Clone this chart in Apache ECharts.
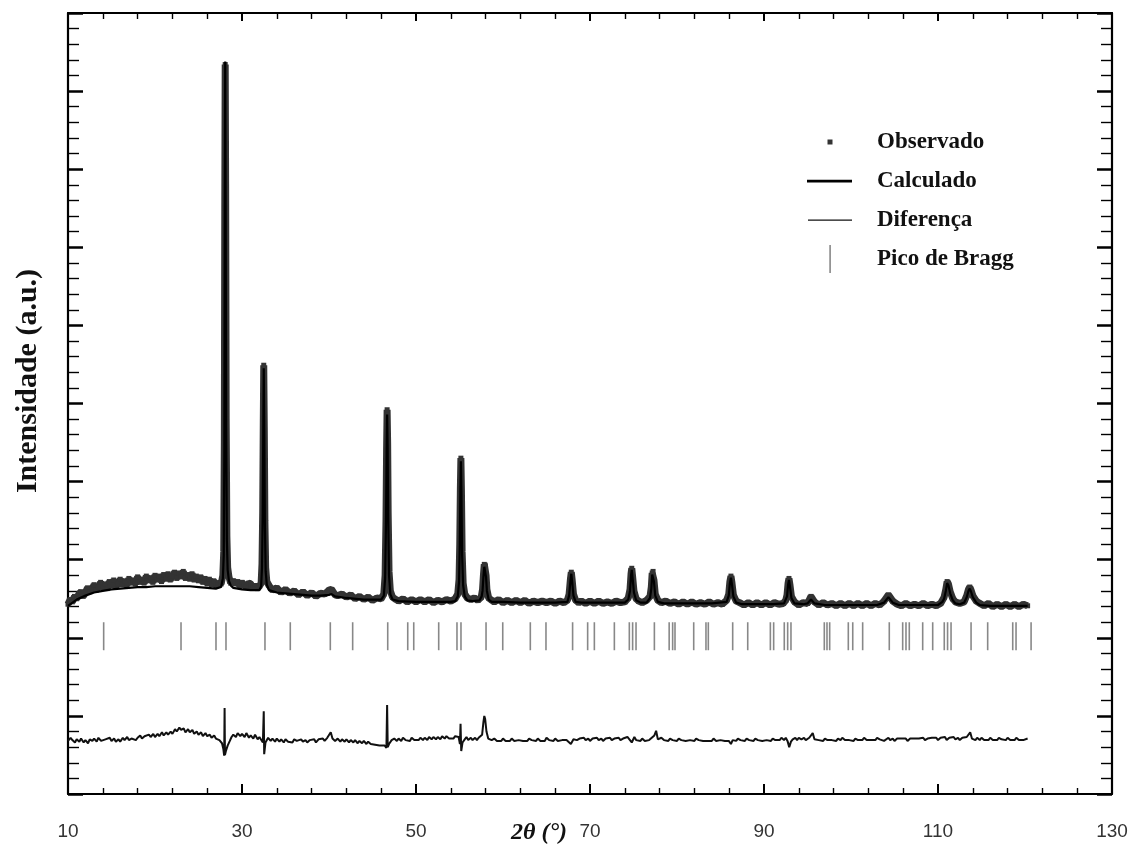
<!DOCTYPE html>
<html>
<head>
<meta charset="utf-8">
<script src="https://cdn.jsdelivr.net/npm/echarts@6/dist/echarts.min.js"></script>
<style>
html,body{margin:0;padding:0;background:#fff;}
#chart{width:1131px;height:859px;}
</style>
</head>
<body>
<div id="chart"></div>
<script>
// ---- data (2θ in degrees, intensity in arbitrary units) ----
const xTickLabels = [10, 30, 50, 70, 90, 110, 130];

const observed = [
[10.0,24.3],[10.25,24.9],[10.5,24.6],[10.75,25.3],[11.0,25.0],[11.25,25.6],[11.5,25.9],[11.75,25.3],[12.0,25.8],[12.25,26.4],
[12.5,25.9],[12.75,26.2],[13.0,26.8],[13.25,26.1],[13.5,26.5],[13.75,27.1],[14.0,26.4],[14.25,26.9],[14.5,26.3],[14.75,27.2],
[15.0,26.7],[15.25,27.4],[15.5,26.6],[15.75,26.9],[16.0,27.5],[16.25,26.8],[16.5,27.3],[16.75,26.7],[17.0,27.6],[17.25,27.0],
[17.5,27.4],[17.75,26.9],[18.0,27.8],[18.25,27.1],[18.5,27.5],[18.75,27.0],[19.0,27.9],[19.25,27.3],[19.5,27.7],[19.75,27.1],
[20.0,28.0],[20.25,27.4],[20.5,27.9],[20.75,27.2],[21.0,28.1],[21.25,27.5],[21.5,28.2],[21.75,27.4],[22.0,27.9],[22.25,28.4],
[22.5,27.6],[22.75,28.3],[23.0,27.8],[23.25,28.5],[23.5,27.6],[23.75,28.1],[24.0,27.5],[24.25,28.2],[24.5,27.4],[24.75,27.9],
[25.0,27.3],[25.25,27.8],[25.5,27.1],[25.75,27.6],[26.0,26.9],[26.25,27.5],[26.5,26.8],[26.75,27.3],[27.0,26.7],[27.25,27.0],[27.4,26.8],
[27.6,26.9],[27.8,28.0],[27.9,31.0],[27.97,45.0],[28.02,75.0],[28.07,93.4],[28.12,78.0],[28.18,48.0],[28.26,33.0],[28.35,29.0],
[28.5,27.8],[28.7,27.0],[29.0,27.3],[29.25,26.9],[29.5,27.2],[29.75,26.6],[30.0,27.1],[30.25,26.7],[30.5,26.5],[30.75,27.0],
[31.0,26.9],[31.25,26.4],[31.5,26.7],[31.75,26.3],[32.0,26.6],
[32.2,27.0],[32.3,29.5],[32.38,36.0],[32.45,48.0],[32.5,54.9],[32.56,47.0],[32.63,35.0],[32.72,29.0],[32.85,27.2],[33.1,26.7],
[33.5,26.1],[34.0,26.4],[34.5,25.8],[35.0,26.2],[35.5,25.7],[36.0,26.0],[36.5,25.5],[37.0,25.9],[37.5,25.4],[38.0,25.8],
[38.5,25.3],[39.0,25.7],[39.5,25.6],[40.0,26.1],[40.3,26.2],[40.7,25.5],[41.0,25.4],[41.5,25.6],[42.0,25.2],[42.5,25.5],
[43.0,25.0],[43.5,25.3],[44.0,24.9],[44.5,25.2],[45.0,24.8],[45.5,25.1],[46.0,25.0],
[46.3,25.6],[46.45,28.0],[46.55,35.0],[46.62,44.0],[46.68,49.2],[46.74,45.0],[46.8,36.0],[46.9,28.5],[47.05,26.0],[47.3,25.2],
[47.7,24.9],[48.0,24.7],[48.5,25.0],[49.0,24.6],[49.5,24.9],[50.0,24.6],[50.5,24.9],[51.0,24.6],[51.5,24.9],[52.0,24.5],
[52.5,24.8],[53.0,24.6],[53.5,24.9],[54.0,24.7],[54.5,25.0],
[54.8,25.6],[54.95,27.5],[55.03,32.0],[55.1,39.0],[55.16,43.0],[55.22,39.0],[55.3,31.0],[55.42,27.0],[55.6,25.6],[55.9,25.1],
[56.3,24.9],[56.7,25.1],[57.1,24.8],[57.5,25.2],
[57.65,26.2],[57.75,28.0],[57.85,29.4],[57.95,29.3],[58.05,28.0],[58.15,26.2],[58.35,25.1],[58.7,24.8],
[59.0,24.6],[59.5,24.9],[60.0,24.5],[60.5,24.8],[61.0,24.5],[61.5,24.8],[62.0,24.5],[62.5,24.8],[63.0,24.4],[63.5,24.7],
[64.0,24.5],[64.5,24.7],[65.0,24.5],[65.5,24.7],[66.0,24.4],[66.5,24.7],[67.0,24.5],[67.4,24.8],
[67.6,25.6],[67.75,27.5],[67.85,28.4],[67.95,27.4],[68.1,25.6],[68.35,24.8],[68.7,24.5],
[69.0,24.7],[69.5,24.4],[70.0,24.7],[70.5,24.4],[71.0,24.7],[71.5,24.4],[72.0,24.6],[72.5,24.4],[73.0,24.7],[73.5,24.5],
[74.0,24.6],[74.4,25.1],[74.6,26.2],[74.72,28.2],[74.8,28.9],[74.9,27.8],[75.05,26.0],[75.3,25.0],[75.6,24.7],
[76.0,24.5],[76.5,24.8],[76.9,25.3],[77.05,26.5],[77.15,28.3],[77.25,28.5],[77.35,27.4],[77.5,25.6],[77.8,24.8],
[78.2,24.5],[78.7,24.7],[79.2,24.4],[79.7,24.6],[80.2,24.3],[80.7,24.6],[81.2,24.3],[81.7,24.6],[82.2,24.3],[82.7,24.5],
[83.2,24.3],[83.7,24.6],[84.2,24.3],[84.7,24.5],[85.2,24.3],[85.7,24.8],
[85.95,25.6],[86.08,27.2],[86.2,27.9],[86.32,27.0],[86.48,25.5],[86.8,24.7],
[87.2,24.5],[87.7,24.2],[88.2,24.5],[88.7,24.2],[89.2,24.5],[89.7,24.2],[90.2,24.5],[90.7,24.2],[91.2,24.5],[91.7,24.3],
[92.2,24.4],[92.5,24.8],[92.65,25.5],[92.77,27.0],[92.87,27.6],[92.98,26.8],[93.15,25.3],[93.5,24.6],
[94.0,24.2],[94.5,24.5],[95.0,24.4],[95.4,25.3],[95.8,24.6],[96.3,24.2],[96.8,24.5],[97.3,24.2],[97.8,24.4],[98.3,24.1],
[98.8,24.4],[99.3,24.1],[99.8,24.4],[100.3,24.1],[100.8,24.4],[101.3,24.1],[101.8,24.4],[102.3,24.1],[102.8,24.4],[103.3,24.2],
[103.8,24.7],[104.3,25.5],[104.8,24.7],[105.3,24.3],[105.8,24.1],[106.3,24.4],[106.8,24.1],[107.3,24.3],[107.8,24.1],[108.3,24.4],
[108.8,24.1],[109.3,24.3],[109.8,24.1],[110.3,24.4],[110.7,25.2],
[110.9,26.2],[111.05,27.2],[111.2,26.9],[111.4,25.9],[111.7,25.0],[112.0,24.6],[112.5,24.4],[113.0,24.6],[113.3,25.4],
[113.5,26.2],[113.65,26.5],[113.8,26.1],[114.0,25.4],[114.4,24.7],[114.8,24.4],
[115.3,24.1],[115.8,24.4],[116.3,24.0],[116.8,24.3],[117.3,24.0],[117.8,24.3],[118.3,24.0],[118.8,24.3],[119.3,24.0],[119.8,24.3],[120.3,24.1]
];

const calculated = [
[10,24.1],[11,24.9],[12,25.4],[13,25.8],[14,26.0],[15,26.2],[16,26.3],[17,26.4],[18,26.5],[19,26.5],[20,26.6],[21,26.6],
[22,26.6],[23,26.6],[24,26.6],[25,26.5],[26,26.4],[27,26.3],[27.6,26.5],[27.8,27.6],[27.9,30.5],[27.97,44],[28.02,76],
[28.07,93.8],[28.12,77],[28.18,47],[28.26,32.5],[28.35,28.7],[28.5,27.3],[28.7,26.7],[29,26.4],[30,26.2],[31,26.1],[32,26.1],
[32.2,26.6],[32.3,29],[32.38,35.5],[32.45,47.5],[32.5,54.5],[32.56,46.5],[32.63,34.5],[32.72,28.5],[32.85,26.8],[33.1,26.1],
[34,25.8],[35,25.7],[36,25.6],[37,25.5],[38,25.4],[39,25.4],[40,25.5],[40.3,25.6],[40.7,25.3],[42,25.1],[44,24.9],[46,24.9],
[46.3,25.4],[46.45,27.6],[46.55,34.5],[46.62,43.5],[46.68,48.6],[46.74,44.5],[46.8,35.5],[46.9,28.0],[47.05,25.6],[47.3,24.9],
[48,24.7],[50,24.6],[52,24.6],[54,24.6],[54.5,24.7],[54.8,25.3],[54.95,27.2],[55.03,31.6],[55.1,38.6],[55.16,42.6],[55.22,38.6],
[55.3,30.6],[55.42,26.7],[55.6,25.3],[55.9,24.8],[56.5,24.7],[57.3,24.8],[57.55,25.3],[57.65,26.0],[57.75,27.8],[57.85,29.1],
[57.95,29.0],[58.05,27.8],[58.15,26.0],[58.35,24.9],[58.7,24.6],[60,24.6],[62,24.5],[64,24.5],[66,24.5],[67.4,24.6],[67.6,25.4],
[67.75,27.3],[67.85,28.2],[67.95,27.2],[68.1,25.4],[68.35,24.6],[69,24.5],[71,24.5],[73,24.5],[74.0,24.5],[74.4,24.9],[74.6,26.0],
[74.72,28.0],[74.8,28.7],[74.9,27.6],[75.05,25.8],[75.3,24.8],[75.8,24.5],[76.5,24.5],[76.9,25.1],[77.05,26.3],[77.15,28.1],
[77.25,28.3],[77.35,27.2],[77.5,25.4],[77.8,24.6],[78.5,24.4],[80,24.4],[82,24.4],[84,24.4],[85.7,24.6],[85.95,25.4],[86.08,27.0],
[86.2,27.7],[86.32,26.8],[86.48,25.3],[86.8,24.5],[87.5,24.3],[89,24.3],[91,24.3],[92.3,24.4],[92.5,24.6],[92.65,25.3],[92.77,26.8],
[92.87,27.4],[92.98,26.6],[93.15,25.1],[93.5,24.4],[94.5,24.3],[95.0,24.4],[95.4,24.9],[95.8,24.4],[97,24.2],[100,24.2],[103,24.2],
[103.8,24.5],[104.3,25.2],[104.8,24.5],[105.5,24.2],[108,24.2],[110,24.2],[110.5,24.6],[110.7,25.0],[110.9,26.0],[111.05,27.0],
[111.2,26.7],[111.4,25.7],[111.7,24.8],[112.0,24.4],[112.5,24.3],[113.0,24.5],[113.3,25.2],[113.5,26.0],[113.65,26.3],[113.8,25.9],
[114.0,25.2],[114.4,24.5],[114.8,24.2],[116,24.1],[118,24.1],[120.3,24.1]
];

const difference = [
[10.0,6.8],[10.3,7.2],[10.5,6.9],[10.8,6.6],[11.0,7.0],[11.3,6.7],[11.5,7.1],[11.8,6.6],[12.0,6.9],[12.3,6.5],[12.5,7.0],[12.8,6.8],
[13.0,7.1],[13.3,6.7],[13.5,7.2],[13.8,6.8],[14.0,6.6],[14.3,7.0],[14.5,6.8],[14.8,7.2],[15.0,6.8],[15.3,7.1],[15.5,6.7],[15.8,7.0],
[16.0,6.7],[16.3,7.2],[16.5,6.9],[16.8,7.3],[17.0,6.9],[17.3,7.1],[17.5,7.3],[17.8,6.9],[18.0,7.2],[18.3,7.5],[18.5,7.1],[18.8,7.4],
[19.0,7.2],[19.3,7.6],[19.5,7.3],[19.8,7.7],[20.0,7.3],[20.3,7.7],[20.5,7.4],[20.8,7.9],[21.0,7.5],[21.3,7.9],[21.5,7.6],[21.8,8.0],
[22.0,7.7],[22.3,8.3],[22.5,8.0],[22.8,8.5],[23.0,8.2],[23.3,8.4],[23.5,7.9],[23.8,8.3],[24.0,7.9],[24.3,8.2],[24.5,7.7],[24.8,8.0],
[25.0,7.6],[25.3,7.9],[25.5,7.4],[25.8,7.8],[26.0,7.4],[26.3,7.6],[26.5,7.2],[26.8,7.5],[27.0,7.1],[27.2,7.3],[27.4,6.9],
[27.7,6.5],[27.85,5.8],[27.95,4.9],[28.0,11.0],[28.04,5.0],[28.15,5.5],[28.35,6.2],[28.6,6.8],[28.8,7.3],[29.0,7.6],[29.3,7.3],
[29.5,7.8],[29.8,7.4],[30.0,7.7],[30.3,7.3],[30.5,7.8],[30.8,7.2],[31.0,7.5],[31.3,7.1],[31.5,7.6],[31.8,7.0],[32.0,7.3],[32.4,6.6],
[32.5,10.6],[32.55,5.1],[32.7,6.6],[33.0,7.2],[33.3,6.8],[33.5,7.1],[33.8,6.7],[34.0,7.1],[34.3,6.7],[34.5,7.0],[34.8,6.6],
[35.0,7.0],[35.3,6.7],[35.5,6.9],[35.8,6.6],[36.0,7.0],[36.3,6.8],[36.5,6.6],[36.8,7.0],[37.0,6.7],[37.3,6.9],[37.5,6.6],[37.8,6.9],
[38.0,6.7],[38.3,7.0],[38.5,6.6],[38.8,7.0],[39.0,6.8],[39.3,7.1],[39.5,6.8],[39.8,7.2],[40.0,7.3],[40.2,7.9],[40.4,7.1],[40.7,6.8],
[41.0,7.1],[41.3,6.7],[41.5,7.0],[41.8,6.7],[42.0,7.0],[42.3,6.6],[42.5,6.9],[42.8,6.6],[43.0,6.9],[43.3,6.5],[43.5,6.8],[43.8,6.5],
[44.0,6.8],[44.3,6.4],[44.5,6.7],[44.8,6.4],[45.0,6.6],[45.3,6.3],[45.5,6.5],[45.8,6.2],[46.0,6.4],
[46.4,6.2],[46.6,5.9],[46.68,11.4],[46.75,6.0],[46.9,6.4],[47.2,6.9],[47.5,7.1],[47.8,6.8],[48.0,7.1],[48.3,6.8],[48.5,7.2],[48.8,6.9],
[49.0,7.1],[49.3,6.8],[49.5,7.2],[49.8,6.9],[50.0,7.1],[50.3,6.9],[50.5,7.2],[50.8,6.9],[51.0,7.2],[51.3,6.9],[51.5,7.3],[51.8,7.0],
[52.0,7.3],[52.3,7.0],[52.5,7.3],[52.8,7.0],[53.0,7.4],[53.3,7.1],[53.5,7.4],[53.8,7.1],[54.0,7.3],[54.3,7.1],[54.5,7.4],[54.9,7.3],
[55.05,6.4],[55.12,9.0],[55.2,5.5],[55.35,6.6],[55.6,7.0],[55.8,7.3],[56.0,6.9],[56.3,7.2],[56.5,6.9],[56.8,7.2],[57.0,6.9],[57.2,7.2],
[57.4,7.1],[57.6,7.6],[57.75,9.2],[57.85,10.0],[57.95,9.6],[58.1,8.0],[58.3,7.1],[58.5,7.2],[58.7,6.9],[59.0,7.1],[59.3,6.8],
[59.5,7.0],[59.8,6.8],[60.0,7.1],[60.3,6.8],[60.5,7.0],[60.8,6.8],[61.0,7.1],[61.3,6.8],[61.5,7.0],[61.8,6.9],[62.0,7.1],[62.3,6.8],
[62.5,7.0],[62.8,6.8],[63.0,7.1],[63.3,6.9],[63.5,7.0],[63.8,6.8],[64.0,7.1],[64.3,6.8],[64.5,7.0],[64.8,6.8],[65.0,7.2],[65.3,6.9],
[65.5,7.0],[65.8,6.8],[66.0,7.1],[66.3,6.8],[66.5,7.0],[66.8,6.9],[67.0,7.1],[67.3,6.9],[67.5,7.0],[67.8,6.4],[68.1,7.0],[68.3,7.2],
[68.5,6.9],[68.8,7.1],[69.0,6.9],[69.3,7.2],[69.5,6.9],[69.8,7.1],[70.0,6.8],[70.3,7.1],[70.5,6.9],[70.8,7.2],[71.0,6.9],[71.3,7.1],
[71.5,6.8],[71.8,7.1],[72.0,6.9],[72.3,7.2],[72.5,6.9],[72.8,7.1],[73.0,6.9],[73.3,7.2],[73.5,6.9],[73.8,7.1],[74.0,7.0],[74.3,7.3],
[74.5,7.4],[74.8,6.6],[75.1,7.3],[75.3,6.9],[75.5,7.1],[75.8,6.8],[76.0,7.1],[76.3,6.8],[76.5,7.0],[76.8,6.9],[77.0,7.1],[77.4,7.5],
[77.6,8.1],[77.8,7.0],[78.0,6.8],[78.2,7.2],[78.5,6.9],[78.7,7.1],[79.0,6.8],[79.2,7.1],[79.5,6.9],[79.7,7.1],[80.0,6.8],[80.2,7.1],
[80.5,6.9],[80.7,7.1],[81.0,6.8],[81.2,7.0],[81.5,6.9],[81.7,7.1],[82.0,6.8],[82.2,7.1],[82.5,6.9],[82.7,7.1],[83.0,6.8],[83.2,7.0],
[83.5,6.8],[83.7,7.0],[84.0,6.8],[84.2,7.1],[84.5,6.8],[84.7,7.0],[85.0,6.9],[85.2,7.1],[85.5,6.8],[85.7,7.0],[85.95,6.8],[86.2,6.4],
[86.4,6.9],[86.6,7.1],[86.8,6.8],[87.0,7.1],[87.3,6.9],[87.5,7.1],[87.8,6.8],[88.0,7.1],[88.3,6.9],[88.5,7.0],[88.8,6.8],[89.0,7.1],
[89.3,6.9],[89.5,7.1],[89.8,6.8],[90.0,7.0],[90.3,6.9],[90.5,7.1],[90.8,6.8],[91.0,7.1],[91.3,6.9],[91.5,7.1],[91.8,6.9],[92.0,7.2],
[92.3,6.9],[92.5,7.2],[92.7,6.8],[92.9,6.0],[93.1,6.7],[93.3,7.0],[93.6,7.2],[93.8,6.9],[94.0,7.2],[94.3,7.0],[94.6,7.2],[94.8,6.9],
[95.0,7.1],[95.2,7.2],[95.6,7.8],[95.8,7.0],[96.0,7.2],[96.3,6.9],[96.5,7.1],[96.8,6.8],[97.0,7.1],[97.3,6.9],[97.5,7.1],[97.8,6.9],
[98.0,7.1],[98.3,6.8],[98.5,7.1],[98.8,6.9],[99.0,7.2],[99.3,6.9],[99.5,7.1],[99.8,6.9],[100.0,7.1],[100.3,6.8],[100.5,7.1],[100.8,6.9],
[101.0,7.1],[101.3,6.9],[101.5,7.2],[101.8,6.9],[102.0,7.1],[102.3,6.9],[102.5,7.1],[102.8,6.9],[103.0,7.2],[103.3,7.0],[103.5,7.1],
[103.8,6.8],[104.0,7.0],[104.3,7.2],[104.5,6.9],[104.8,7.1],[105.0,6.8],[105.3,7.1],[105.5,6.9],[105.8,7.1],[106.0,6.9],[106.3,7.1],
[106.5,6.8],[106.8,7.1],[107.0,6.9],[107.3,7.1],[107.5,6.9],[107.8,7.1],[108.0,7.0],[108.3,7.2],[108.5,6.9],[108.8,7.1],[109.0,6.9],
[109.3,7.2],[109.5,7.0],[109.8,7.2],[110.0,6.9],[110.3,7.2],[110.5,7.0],[110.8,7.3],[111.0,6.9],[111.3,7.2],[111.5,7.0],[111.8,7.3],
[112.0,7.0],[112.3,7.2],[112.5,6.9],[112.8,7.2],[113.0,7.0],[113.3,7.3],[113.5,7.4],[113.7,7.9],[113.9,7.1],[114.0,7.3],[114.3,6.9],
[114.5,7.2],[114.8,6.9],[115.0,7.2],[115.3,6.9],[115.5,7.1],[115.8,6.9],[116.0,7.2],[116.3,6.9],[116.5,7.1],[116.8,6.9],[117.0,7.2],
[117.3,7.0],[117.5,7.1],[117.8,6.9],[118.0,7.2],[118.3,6.9],[118.5,7.1],[118.8,6.9],[119.0,7.2],[119.3,6.9],[119.5,7.1],[119.8,6.9],[120.3,7.1]
];

const braggPositions = [
14.10,22.99,27.01,28.16,32.64,35.55,40.15,42.72,46.75,49.05,49.74,52.61,54.71,55.17,58.05,59.97,63.14,64.94,
68.0,69.73,70.5,72.8,74.52,74.9,75.29,77.4,79.1,79.5,79.77,81.92,83.33,83.6,86.4,88.13,90.73,91.11,92.33,92.72,93.1,
96.93,97.24,97.55,99.69,100.2,101.34,104.4,105.94,106.32,106.7,108.24,109.39,110.72,111.1,111.5,113.8,115.71,118.59,118.97,120.7
];
const braggLevel = 20.2;

const legendNames = ['Observado', 'Calculado', 'Diferença', 'Pico de Bragg'];

// ---- chart ----
const chart = echarts.init(document.getElementById('chart'), null, {renderer: 'canvas'});

const axisLineStyle = {color: '#000', width: 2.2};
const serif = '"Liberation Serif", "Times New Roman", serif';

function xAx(pos, showLabel, majorLen, minorLen) {
  return {
    type: 'value', min: 10, max: 130, interval: 20, position: pos,
    axisLine: {show: true, onZero: false, lineStyle: axisLineStyle},
    axisTick: {show: true, inside: true, length: majorLen, lineStyle: {color: '#000', width: 2}},
    minorTick: {show: true, splitNumber: 5, length: minorLen, lineStyle: {color: '#000', width: 1.4}},
    splitLine: {show: false},
    axisLabel: {show: showLabel, margin: 28, fontFamily: '"Liberation Sans", Arial, sans-serif', fontSize: 19, color: '#333',
      formatter: v => (xTickLabels.indexOf(v) >= 0 ? String(v) : '')}
  };
}
function yAx(pos) {
  return {
    type: 'value', min: 0, max: 100, interval: 10, position: pos,
    axisLine: {show: true, onZero: false, lineStyle: axisLineStyle},
    axisTick: {show: true, inside: true, length: 15, lineStyle: {color: '#000', width: 2.5}},
    minorTick: {show: true, splitNumber: 5, length: 11, lineStyle: {color: '#000', width: 1.4}},
    splitLine: {show: false},
    axisLabel: {show: false}
  };
}

const option = {
  backgroundColor: '#fff',
  animation: false,
  grid: {left: 68, right: 19, top: 13, bottom: 65, containLabel: false},
  xAxis: [xAx('bottom', true, 10, 6), xAx('top', false, 8, 6)],
  yAxis: [yAx('left'), yAx('right')],
  legend: {
    orient: 'vertical', left: 802, top: 122, padding: 5,
    itemWidth: 65, itemHeight: 30, itemGap: 9,
    itemStyle: {borderWidth: 0},
    textStyle: {fontFamily: serif, fontWeight: 'bold', fontSize: 23, color: '#111'},
    data: [
      {name: legendNames[0], icon: 'path://M0,0M65,30M20.5,12.5h5v5h-5z'},
      {name: legendNames[1], icon: 'path://M0,0M65,30M0,13.7h45v2.8h-45z'},
      {name: legendNames[2], icon: 'path://M0,0M65,30M1,14.4h44v1.3h-44z'},
      {name: legendNames[3], icon: 'path://M0,0M65,30M22.3,1h1.6v28h-1.6z'}
    ]
  },
  graphic: [
    {type: 'text', x: 28, y: 381, rotation: Math.PI / 2,
     style: {text: 'Intensidade (a.u.)', font: 'bold 30px ' + serif, fill: '#111', textAlign: 'center', textVerticalAlign: 'middle'}},
    {type: 'text', x: 539, y: 833,
     style: {text: '2θ (°)', font: 'italic bold 24px ' + serif, fill: '#111', textAlign: 'center', textVerticalAlign: 'middle'}}
  ],
  series: [
    {name: legendNames[0], type: 'line', data: observed, xAxisIndex: 0, yAxisIndex: 0,
     symbol: 'rect', symbolSize: 5, showSymbol: true, showAllSymbol: true,
     lineStyle: {color: '#333', width: 7}, itemStyle: {color: '#333'}, z: 2, silent: true},
    {name: legendNames[1], type: 'line', data: calculated, symbol: 'none',
     lineStyle: {color: '#000', width: 2.2}, itemStyle: {color: '#000'}, z: 3, silent: true},
    {name: legendNames[2], type: 'line', data: difference, symbol: 'none',
     lineStyle: {color: '#111', width: 2}, itemStyle: {color: '#111'}, z: 3, silent: true},
    {name: legendNames[3], type: 'scatter', data: braggPositions.map(p => [p, braggLevel]),
     symbol: 'rect', symbolSize: [1.6, 28], itemStyle: {color: '#6a6a6a'}, z: 2, silent: true}
  ]
};
chart.setOption(option);
</script>
</body>
</html>
